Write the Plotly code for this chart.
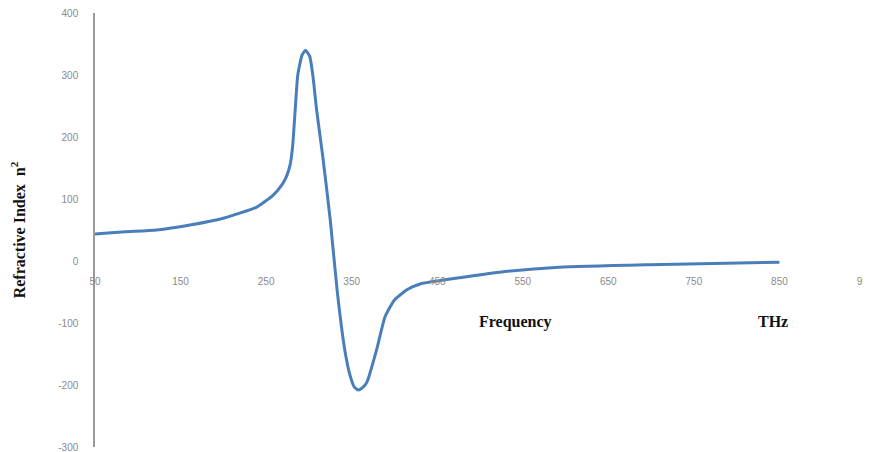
import plotly.graph_objects as go

# Data
frequency = [50, 85, 122, 161, 200, 239, 258, 268, 274, 278, 281, 284, 287, 292, 296,
             301, 305, 309, 316, 325, 333, 342, 348, 353, 358, 363, 368, 379, 389, 400,
             415, 430, 476, 523, 593, 698, 850]
refractive_n2 = [43.5, 47, 50, 58, 69, 87, 106, 122, 137, 155, 185, 244, 300, 332, 340,
                 330, 295, 244, 171, 66, -47, -144, -184, -203, -208, -204, -195, -144, -90, -63,
                 -46, -37, -27, -18, -10, -6, -2]

x_ticks = [50, 150, 250, 350, 450, 550, 650, 750, 850, 950]
y_ticks = [-300, -200, -100, 0, 100, 200, 300, 400]

fig = go.Figure()
fig.add_trace(go.Scatter(
    x=frequency, y=refractive_n2, mode="lines",
    line=dict(color="#4A7EBB", width=3, shape="spline", smoothing=0.5),
    showlegend=False, hoverinfo="skip",
))

y_min, y_max = -300, 400
fig.update_layout(
    width=871, height=452,
    margin=dict(l=87, r=14, t=5, b=13, autoexpand=False),
    paper_bgcolor="white", plot_bgcolor="white",
    font=dict(family="Liberation Sans, Arial, sans-serif", size=10, color="#8a8a8a"),
    xaxis=dict(
        range=[50, 950], tickvals=x_ticks, ticktext=[str(v) for v in x_ticks],
        showgrid=False, zeroline=False, showline=False, ticks="",
        anchor="free", position=(0 - y_min) / (y_max - y_min),
        ticklabelstandoff=13, automargin=False, ticklabeloverflow="allow",
    ),
    yaxis=dict(
        range=[y_min, y_max], tickvals=y_ticks, ticktext=[str(v) for v in y_ticks],
        showgrid=False, zeroline=False, showline=True, linecolor="#9a9a9a", linewidth=1.5,
        ticks="", ticklabelstandoff=13, automargin=False, ticklabeloverflow="allow",
        title=dict(text="Refractive Index  n<sup>2</sup>", standoff=30,
                   font=dict(family="Liberation Serif, Times New Roman, serif",
                             size=16, color="#111111", weight="bold")),
    ),
    annotations=[
        dict(text="<b>Frequency</b>", x=541, y=-98, xref="x", yref="y", showarrow=False,
             font=dict(family="Liberation Serif, Times New Roman, serif", size=16, color="#111111")),
        dict(text="<b>THz</b>", x=842, y=-98, xref="x", yref="y", showarrow=False,
             font=dict(family="Liberation Serif, Times New Roman, serif", size=16, color="#111111")),
    ],
)

fig.write_html("out.html")
